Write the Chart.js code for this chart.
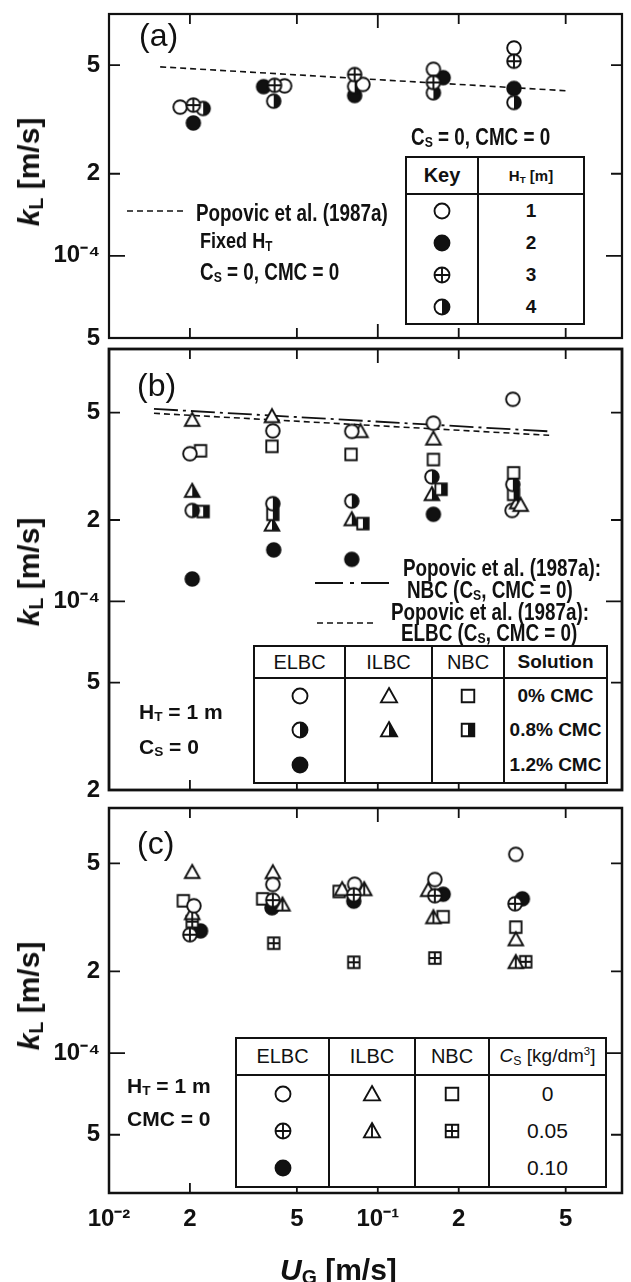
<!DOCTYPE html>
<html>
<head>
<meta charset="utf-8">
<script src="https://cdn.jsdelivr.net/npm/chart.js@4.4.1/dist/chart.umd.min.js"></script>
<style>
  body { margin: 0; background: #fff; width: 631px; height: 1282px; position: relative; overflow: hidden;
         font-family: 'Liberation Sans', Arial, sans-serif; color: #111; }
  canvas.panel { position: absolute; left: 0; }
  .t { position: absolute; white-space: nowrap; line-height: 1; transform: translateY(-50%); }
  .b { font-weight: bold; font-size: 21px; }
  .cond { font-weight: bold; font-size: 23px; transform: translateY(-50%) scaleX(0.82); transform-origin: 0 50%; }
  .lab { font-size: 32px; }
  .ytitle { position: absolute; left: 29px; font-weight: bold; font-size: 30px; white-space: nowrap; line-height: 1;
            transform: translate(-50%, -50%) rotate(-90deg); }
  sub { font-size: 65%; vertical-align: -0.2em; line-height: 0; }
  table { position: absolute; border-collapse: collapse; border: 2px solid #111; background: #fff; table-layout: fixed; }
  th { border: 2px solid #111; padding: 0; }
  td { border-left: 2px solid #111; border-right: 2px solid #111; padding: 0; text-align: center; }
  td canvas { display: block; margin: 0 auto; }
  svg { position: absolute; }
</style>
</head>
<body>
<canvas class="panel" id="pa" width="631" height="360" style="top:0px"></canvas>
<canvas class="panel" id="pb" width="631" height="470" style="top:340px"></canvas>
<canvas class="panel" id="pc" width="631" height="486" style="top:796px"></canvas>

<!-- axis titles -->
<div class="ytitle" style="top:172px"><i>k</i><sub>L</sub> [m/s]</div>
<div class="ytitle" style="top:572px"><i>k</i><sub>L</sub> [m/s]</div>
<div class="ytitle" style="top:996px"><i>k</i><sub>L</sub> [m/s]</div>
<div class="t" style="left:280px;top:1270px;font-weight:bold;font-size:30px"><i>U</i><sub>G</sub> [m/s]</div>

<!-- panel (a) -->
<div class="t lab" style="left:139px;top:35px">(a)</div>
<svg style="left:127px;top:205px" width="60" height="12"><line x1="0" y1="6" x2="56" y2="6" stroke="#111" stroke-width="1.7" stroke-dasharray="6 4"/></svg>
<div class="t cond" style="left:196px;top:213px">Popovic et al. (1987a)</div>
<div class="t cond" style="left:200px;top:241px;font-size:22px">Fixed H<sub>T</sub></div>
<div class="t cond" style="left:200px;top:272px">C<sub>S</sub> = 0, CMC = 0</div>
<div class="t cond" style="left:411px;top:137px">C<sub>S</sub> = 0, CMC = 0</div>
<table style="left:405px;top:156px;width:180px;height:169px">
  <tr style="height:37px"><th style="width:70px;font-size:20px">Key</th><th style="font-size:15px">H<sub>T</sub> [m]</th></tr>
  <tr><td><canvas data-m="open" width="22" height="22"></canvas></td><td class="b" style="font-size:19px">1</td></tr>
  <tr><td><canvas data-m="filled" width="22" height="22"></canvas></td><td class="b" style="font-size:19px">2</td></tr>
  <tr><td><canvas data-m="cross" width="22" height="22"></canvas></td><td class="b" style="font-size:19px">3</td></tr>
  <tr><td><canvas data-m="half" width="22" height="22"></canvas></td><td class="b" style="font-size:19px">4</td></tr>
</table>

<!-- panel (b) -->
<div class="t lab" style="left:137px;top:385px">(b)</div>
<div class="t cond" style="left:403px;top:568px">Popovic et al. (1987a):</div>
<svg style="left:315px;top:577px" width="76" height="12"><line x1="0" y1="6" x2="74" y2="6" stroke="#111" stroke-width="1.9" stroke-dasharray="28 7 4 7"/></svg>
<div class="t cond" style="left:407px;top:590px">NBC (C<sub>S</sub>, CMC = 0)</div>
<div class="t cond" style="left:391px;top:612px">Popovic et al. (1987a):</div>
<svg style="left:317px;top:617px" width="60" height="12"><line x1="0" y1="6" x2="56" y2="6" stroke="#111" stroke-width="1.7" stroke-dasharray="6 4"/></svg>
<div class="t cond" style="left:401px;top:633px">ELBC (C<sub>S</sub>, CMC = 0)</div>
<div class="t b" style="left:139px;top:711px">H<sub>T</sub> = 1 m</div>
<div class="t b" style="left:139px;top:746px">C<sub>S</sub> = 0</div>
<table style="left:253px;top:645px;width:355px;height:139px">
  <tr style="height:32px"><th style="width:89px;font-weight:normal;font-size:20px">ELBC</th><th style="width:85px;font-weight:normal;font-size:20px">ILBC</th><th style="width:70px;font-weight:normal;font-size:20px">NBC</th><th style="font-size:19px">Solution</th></tr>
  <tr><td><canvas data-m="open" width="22" height="22"></canvas></td><td><canvas data-m="tri" width="22" height="22"></canvas></td><td><canvas data-m="sq" width="22" height="22"></canvas></td><td class="b" style="font-size:19px">0% CMC</td></tr>
  <tr><td><canvas data-m="half" width="22" height="22"></canvas></td><td><canvas data-m="triHalf" width="22" height="22"></canvas></td><td><canvas data-m="sqHalf" width="22" height="22"></canvas></td><td class="b" style="font-size:19px">0.8% CMC</td></tr>
  <tr><td><canvas data-m="filled" width="22" height="22"></canvas></td><td></td><td></td><td class="b" style="font-size:19px">1.2% CMC</td></tr>
</table>

<!-- panel (c) -->
<div class="t lab" style="left:137px;top:843px">(c)</div>
<div class="t b" style="left:127px;top:1085px">H<sub>T</sub> = 1 m</div>
<div class="t b" style="left:127px;top:1118px">CMC = 0</div>
<table style="left:235px;top:1037px;width:372px;height:151px">
  <tr style="height:37px"><th style="width:91px;font-weight:normal;font-size:20px">ELBC</th><th style="width:84px;font-weight:normal;font-size:20px">ILBC</th><th style="width:72px;font-weight:normal;font-size:20px">NBC</th><th style="font-weight:normal;font-size:19px"><i>C</i><sub>S</sub> [kg/dm<sup style="font-size:60%">3</sup>]</th></tr>
  <tr><td><canvas data-m="open" width="22" height="22"></canvas></td><td><canvas data-m="tri" width="22" height="22"></canvas></td><td><canvas data-m="sq" width="22" height="22"></canvas></td><td style="font-size:21px">0</td></tr>
  <tr><td><canvas data-m="cross" width="22" height="22"></canvas></td><td><canvas data-m="triLine" width="22" height="22"></canvas></td><td><canvas data-m="sqPlus" width="22" height="22"></canvas></td><td style="font-size:21px">0.05</td></tr>
  <tr><td><canvas data-m="filled" width="22" height="22"></canvas></td><td></td><td></td><td style="font-size:21px">0.10</td></tr>
</table>

<script>
// axis ticks
const xTickVals = [0.01, 0.02, 0.05, 0.1, 0.2, 0.5];
const xTickText = ['10⁻²', '2', '5', '10⁻¹', '2', '5'];
const yTickVals = [2e-5, 5e-5, 1e-4, 2e-4, 5e-4];
const yTickText = ['2', '5', '10⁻⁴', '2', '5'];

// (a) HT = 1, 2, 3, 4 m
const a_ug_h1 = [0.0184, 0.045, 0.088, 0.161, 0.321];
const a_kl_h1 = [3.51e-4, 4.20e-4, 4.25e-4, 4.83e-4, 5.78e-4];
const a_ug_h2 = [0.0206, 0.0376, 0.082, 0.175, 0.321];
const a_kl_h2 = [3.07e-4, 4.17e-4, 3.87e-4, 4.50e-4, 4.11e-4];
const a_ug_h3 = [0.0206, 0.0413, 0.082, 0.161, 0.321];
const a_kl_h3 = [3.57e-4, 4.22e-4, 4.62e-4, 4.32e-4, 5.17e-4];
const a_ug_h4 = [0.0224, 0.041, 0.082, 0.161, 0.321];
const a_kl_h4 = [3.47e-4, 3.69e-4, 4.18e-4, 3.96e-4, 3.65e-4];
const a_ug_pop = [0.0155, 0.5];
const a_kl_pop = [4.93e-4, 4.03e-4];

// (b) ELBC / ILBC / NBC with CMC
const b_ug_elbc0 = [0.020, 0.0407, 0.080, 0.161, 0.318];
const b_kl_elbc0 = [3.52e-4, 4.28e-4, 4.26e-4, 4.57e-4, 5.6e-4];
const b_ug_elbc8 = [0.0204, 0.0407, 0.080, 0.159, 0.318];
const b_kl_elbc8 = [2.17e-4, 2.30e-4, 2.35e-4, 2.89e-4, 2.71e-4];
const b_ug_elbc12 = [0.0204, 0.041, 0.080, 0.161, 0.316];
const b_kl_elbc12 = [1.21e-4, 1.55e-4, 1.43e-4, 2.10e-4, 2.17e-4];
const b_ug_ilbc0 = [0.0204, 0.0404, 0.0862, 0.161, 0.34];
const b_kl_ilbc0 = [4.69e-4, 4.84e-4, 4.26e-4, 4.00e-4, 2.27e-4];
const b_ug_ilbc8 = [0.0204, 0.0404, 0.080, 0.159, 0.33];
const b_kl_ilbc8 = [2.56e-4, 1.92e-4, 2.01e-4, 2.49e-4, 2.32e-4];
const b_ug_nbc0 = [0.0219, 0.0404, 0.0795, 0.161, 0.32];
const b_kl_nbc0 = [3.61e-4, 3.75e-4, 3.50e-4, 3.35e-4, 2.99e-4];
const b_ug_nbc8 = [0.0224, 0.0407, 0.088, 0.172, 0.32];
const b_kl_nbc8 = [2.15e-4, 2.10e-4, 1.94e-4, 2.60e-4, 2.49e-4];
const b_ug_pop = [0.0147, 0.434];
const b_kl_popNbc = [5.16e-4, 4.26e-4];
const b_kl_popElbc = [4.97e-4, 4.12e-4];

// (c) ELBC / ILBC / NBC with solids
const c_ug_elbc0 = [0.0207, 0.0407, 0.082, 0.163, 0.326];
const c_kl_elbc0 = [3.49e-4, 4.18e-4, 4.19e-4, 4.36e-4, 5.4e-4];
const c_ug_elbc5 = [0.020, 0.0407, 0.0814, 0.163, 0.324];
const c_kl_elbc5 = [2.73e-4, 3.66e-4, 3.83e-4, 3.80e-4, 3.55e-4];
const c_ug_elbc10 = [0.0219, 0.0404, 0.0814, 0.175, 0.345];
const c_kl_elbc10 = [2.82e-4, 3.43e-4, 3.63e-4, 3.85e-4, 3.70e-4];
const c_ug_ilbc0 = [0.0204, 0.0407, 0.0737, 0.154, 0.326];
const c_kl_ilbc0 = [4.64e-4, 4.63e-4, 4.01e-4, 3.98e-4, 2.62e-4];
const c_ug_ilbc5 = [0.0204, 0.0442, 0.089, 0.161, 0.326];
const c_kl_ilbc5 = [3.27e-4, 3.52e-4, 4.01e-4, 3.16e-4, 2.16e-4];
const c_ug_nbc0 = [0.0189, 0.0373, 0.0718, 0.175, 0.326];
const c_kl_nbc0 = [3.64e-4, 3.70e-4, 3.94e-4, 3.18e-4, 2.91e-4];
const c_ug_nbc5 = [0.0204, 0.041, 0.0814, 0.163, 0.355];
const c_kl_nbc5 = [3.05e-4, 2.54e-4, 2.16e-4, 2.24e-4, 2.17e-4];

const INK = '#111';

function shapePath(ctx, type, cx, cy, k) {
  const r = 6.8 * k, s = 5.7 * k, w = 7.3 * k, h = 7.2 * k, b = 5.8 * k;
  ctx.beginPath();
  if (type.startsWith('tri')) {
    ctx.moveTo(cx, cy - h); ctx.lineTo(cx + w, cy + b); ctx.lineTo(cx - w, cy + b); ctx.closePath();
  } else if (type.startsWith('sq')) {
    ctx.rect(cx - s, cy - s, 2 * s, 2 * s);
  } else {
    ctx.arc(cx, cy, r, 0, Math.PI * 2);
  }
  return { r, s, w, h, b };
}

function drawMarker(ctx, type, cx, cy, k) {
  k = k || 1;
  ctx.save();
  ctx.lineWidth = 1.9;
  ctx.strokeStyle = INK;
  const { r, s, w, h, b } = shapePath(ctx, type, cx, cy, k);
  ctx.fillStyle = type === 'filled' ? INK : '#fff';
  ctx.fill();
  ctx.fillStyle = INK;
  if (type === 'half') {
    ctx.beginPath(); ctx.arc(cx, cy, r, -Math.PI / 2, Math.PI / 2); ctx.closePath(); ctx.fill();
  } else if (type === 'triHalf') {
    ctx.beginPath(); ctx.moveTo(cx, cy - h); ctx.lineTo(cx + w, cy + b); ctx.lineTo(cx, cy + b); ctx.closePath(); ctx.fill();
  } else if (type === 'sqHalf') {
    ctx.fillRect(cx, cy - s, s, 2 * s);
  }
  shapePath(ctx, type, cx, cy, k);
  ctx.stroke();
  ctx.beginPath();
  if (type === 'cross') {
    ctx.moveTo(cx - r, cy); ctx.lineTo(cx + r, cy); ctx.moveTo(cx, cy - r); ctx.lineTo(cx, cy + r);
  } else if (type === 'sqPlus') {
    ctx.moveTo(cx - s, cy); ctx.lineTo(cx + s, cy); ctx.moveTo(cx, cy - s); ctx.lineTo(cx, cy + s);
  } else if (type === 'triLine') {
    ctx.moveTo(cx, cy - h); ctx.lineTo(cx, cy + b);
  }
  ctx.stroke();
  ctx.restore();
}

const markerCache = {};
function marker(type) {
  if (!markerCache[type]) {
    const c = document.createElement('canvas');
    c.width = 20; c.height = 20;
    drawMarker(c.getContext('2d'), type, 10, 10);
    markerCache[type] = c;
  }
  return markerCache[type];
}

function pts(xs, ys) { return xs.map((x, i) => ({ x, y: ys[i] })); }

function points(xs, ys, type) {
  return { data: pts(xs, ys), pointStyle: marker(type), pointRadius: 8, showLine: false, order: 1 };
}

function refLine(xs, ys, dash, width) {
  return { data: pts(xs, ys), showLine: true, pointRadius: 0, borderColor: INK, borderWidth: width || 1.6,
           borderDash: dash, fill: false, order: 10 };
}

function tickText(v, vals, texts) {
  const i = vals.findIndex(t => Math.abs(v / t - 1) < 1e-6);
  return i < 0 ? '' : texts[i];
}

// frame + inward tick marks on all four sides
const framePlugin = {
  id: 'frame',
  afterDatasetsDraw(chart, args, opts) {
    const { ctx, chartArea: a, scales } = chart;
    ctx.save();
    ctx.strokeStyle = INK;
    ctx.lineWidth = 1.8;
    ctx.beginPath();
    xTickVals.forEach(v => {
      if (v <= scales.x.min || v >= scales.x.max) return;
      const px = scales.x.getPixelForValue(v);
      const len = v === 0.1 ? 14 : 10;
      ctx.moveTo(px, a.top); ctx.lineTo(px, a.top + len);
      ctx.moveTo(px, a.bottom); ctx.lineTo(px, a.bottom - len);
    });
    yTickVals.forEach(v => {
      if (v <= scales.y.min || v >= scales.y.max) return;
      const py = scales.y.getPixelForValue(v);
      const len = v === 1e-4 ? 16 : 11;
      ctx.moveTo(a.left, py); ctx.lineTo(a.left + len, py);
      ctx.moveTo(a.right, py); ctx.lineTo(a.right - len, py);
    });
    ctx.stroke();
    ctx.lineWidth = opts.width || 2.5;
    ctx.strokeRect(a.left, a.top, a.right - a.left, a.bottom - a.top);
    ctx.restore();
  }
};

const tickFont = { family: "'Liberation Sans', Arial, sans-serif", size: 24, weight: 'bold' };

function noPad(s) {
  s.paddingTop = 0; s.paddingBottom = 0; s.paddingLeft = 0; s.paddingRight = 0;
}

function makePanel(id, p) {
  return new Chart(document.getElementById(id), {
    type: 'scatter',
    data: { datasets: p.datasets },
    options: {
      responsive: false,
      animation: false,
      events: [],
      layout: { padding: { top: p.padTop, bottom: p.padBottom, left: 0, right: 6 } },
      plugins: { legend: { display: false }, tooltip: { enabled: false }, frame: { width: p.frame } },
      scales: {
        x: {
          type: 'logarithmic', min: 0.01, max: 0.81, display: p.showX,
          grid: { display: false, drawTicks: false }, border: { display: false },
          afterBuildTicks: s => { s.ticks = xTickVals.map(v => ({ value: v })); },
          afterFit: s => { s.height = p.xAxisH || 0; noPad(s); },
          ticks: { autoSkip: false, maxRotation: 0, padding: 12, color: INK, font: tickFont,
                   callback: v => tickText(v, xTickVals, xTickText) }
        },
        y: {
          type: 'logarithmic', min: p.yMin, max: p.yMax,
          grid: { display: false, drawTicks: false }, border: { display: false },
          afterBuildTicks: s => { s.ticks = yTickVals.filter(v => v >= p.yMin * 0.999 && v <= p.yMax).map(v => ({ value: v })); },
          afterFit: s => { s.width = 109; noPad(s); },
          ticks: { autoSkip: false, padding: 9, color: INK, font: tickFont,
                   callback: v => tickText(v, yTickVals, yTickText) }
        }
      }
    },
    plugins: [framePlugin]
  });
}

makePanel('pa', {
  padTop: 14, padBottom: 22, showX: false, yMin: 5e-5, yMax: 7.7e-4, frame: 2.2,
  datasets: [
    points(a_ug_h3, a_kl_h3, 'cross'),
    points(a_ug_h1, a_kl_h1, 'open'),
    points(a_ug_h4, a_kl_h4, 'half'),
    points(a_ug_h2, a_kl_h2, 'filled'),
    refLine(a_ug_pop, a_kl_pop, [6, 4])
  ]
});

const b_elbc12 = points(b_ug_elbc12, b_kl_elbc12, 'filled');
b_elbc12.pointStyle = b_ug_elbc12.map((x, i) => i === 4 ? marker('open') : marker('filled'));

makePanel('pb', {
  padTop: 8, padBottom: 20, showX: false, yMin: 2e-5, yMax: 8.6e-4, frame: 2.8,
  datasets: [
    points(b_ug_elbc0, b_kl_elbc0, 'open'),
    points(b_ug_ilbc0, b_kl_ilbc0, 'tri'),
    points(b_ug_nbc0, b_kl_nbc0, 'sq'),
    points(b_ug_elbc8, b_kl_elbc8, 'half'),
    points(b_ug_nbc8, b_kl_nbc8, 'sqHalf'),
    points(b_ug_ilbc8, b_kl_ilbc8, 'triHalf'),
    b_elbc12,
    refLine(b_ug_pop, b_kl_popNbc, [24, 5, 3, 5], 1.8),
    refLine(b_ug_pop, b_kl_popElbc, [6, 4])
  ]
});

makePanel('pc', {
  padTop: 12, padBottom: 0, showX: true, xAxisH: 89, yMin: 3.05e-5, yMax: 8e-4, frame: 2.5,
  datasets: [
    points(c_ug_elbc5, c_kl_elbc5, 'cross'),
    points(c_ug_elbc0, c_kl_elbc0, 'open'),
    points(c_ug_ilbc5, c_kl_ilbc5, 'triLine'),
    points(c_ug_nbc5, c_kl_nbc5, 'sqPlus'),
    points(c_ug_elbc10, c_kl_elbc10, 'filled'),
    points(c_ug_ilbc0, c_kl_ilbc0, 'tri'),
    points(c_ug_nbc0, c_kl_nbc0, 'sq')
  ]
});

// legend symbols inside the key tables
document.querySelectorAll('canvas[data-m]').forEach(c => {
  drawMarker(c.getContext('2d'), c.dataset.m, 11, 11, 1.1);
});
</script>
</body>
</html>
